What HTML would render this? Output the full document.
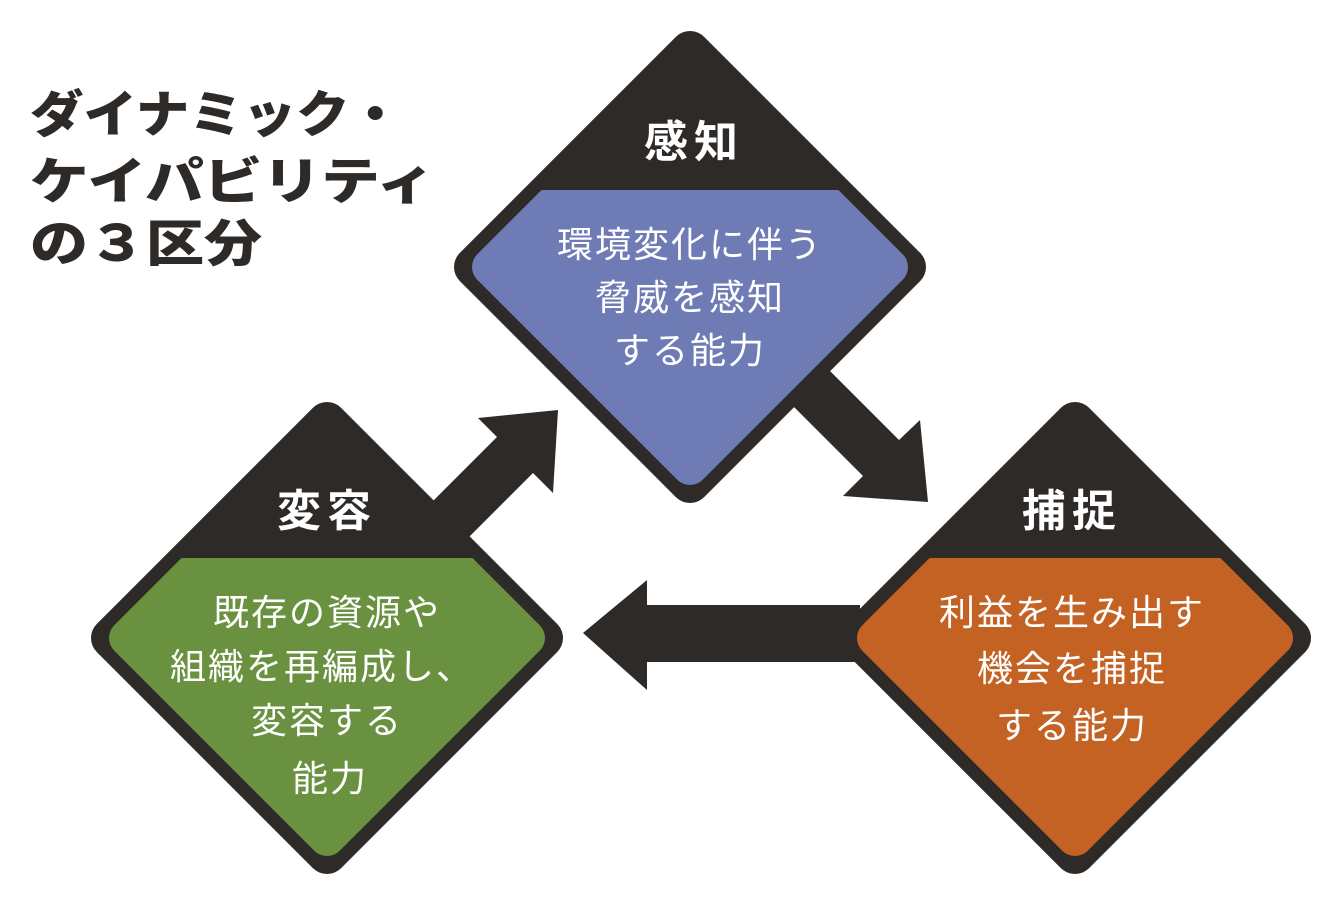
<!DOCTYPE html>
<html><head><meta charset="utf-8"><style>
html,body{margin:0;padding:0;background:#fff;}
svg{display:block;}
text{font-family:"Liberation Sans","Noto Sans CJK JP",sans-serif;}
</style></head><body>
<svg width="1340" height="908" viewBox="0 0 1340 908" xmlns="http://www.w3.org/2000/svg">
<defs>
<clipPath id="ct"><rect x="0" y="190" width="1340" height="400"/></clipPath>
<clipPath id="cb"><rect x="0" y="558" width="1340" height="400"/></clipPath>
</defs>
<g fill="#2e2a27" font-weight="900" font-size="50">
<text x="30" y="132" textLength="372" lengthAdjust="spacingAndGlyphs">ダイナミック・</text>
<text x="30" y="199" textLength="405" lengthAdjust="spacingAndGlyphs">ケイパビリティ</text>
<text x="30" y="261" textLength="232" lengthAdjust="spacingAndGlyphs">の３区分</text>
</g>
<g fill="#2e2a27">
<polygon points="382,552 497,437 478,418 558,410 553,493 533,473 418,588"/>
<polygon points="798,339 899,440 920,420 928,502 843,496 863,476 762,375"/>
<polygon points="583,633 647,580 647,605 860,605 860,662 647,662 647,690"/>
</g>
<g>
<polygon points="690,51 906,267 690,483 474,267" fill="#2e2a27" stroke="#2e2a27" stroke-width="40" stroke-linejoin="round"/>
<polygon points="690,67 890,267 690,467 490,267" fill="#6e7bb4" stroke="#6e7bb4" stroke-width="36" stroke-linejoin="round" clip-path="url(#ct)"/>
</g>
<g>
<polygon points="327,422 543,638 327,854 111,638" fill="#2e2a27" stroke="#2e2a27" stroke-width="40" stroke-linejoin="round"/>
<polygon points="327,438 527,638 327,838 127,638" fill="#6a9140" stroke="#6a9140" stroke-width="36" stroke-linejoin="round" clip-path="url(#cb)"/>
</g>
<g>
<polygon points="1075,422 1291,638 1075,854 859,638" fill="#2e2a27" stroke="#2e2a27" stroke-width="40" stroke-linejoin="round"/>
<polygon points="1075,438 1275,638 1075,838 875,638" fill="#c46223" stroke="#c46223" stroke-width="36" stroke-linejoin="round" clip-path="url(#cb)"/>
</g>
<g fill="#fff" font-weight="bold" font-size="44" text-anchor="middle">
<text x="694" y="157" letter-spacing="6">感知</text>
<text x="327" y="526" letter-spacing="6">変容</text>
<text x="1072" y="526" letter-spacing="6">捕捉</text>
</g>
<g fill="#fff" font-size="36" text-anchor="middle" letter-spacing="2">
<text x="690" y="257">環境変化に伴う</text>
<text x="690" y="310">脅威を感知</text>
<text x="690" y="363">する能力</text>
<text x="327" y="625">既存の資源や</text>
<text x="322" y="679">組織を再編成し、</text>
<text x="327" y="733">変容する</text>
<text x="330" y="791">能力</text>
<text x="1072" y="625">利益を生み出す</text>
<text x="1072" y="681">機会を捕捉</text>
<text x="1072" y="738">する能力</text>
</g>
</svg>
</body></html>
